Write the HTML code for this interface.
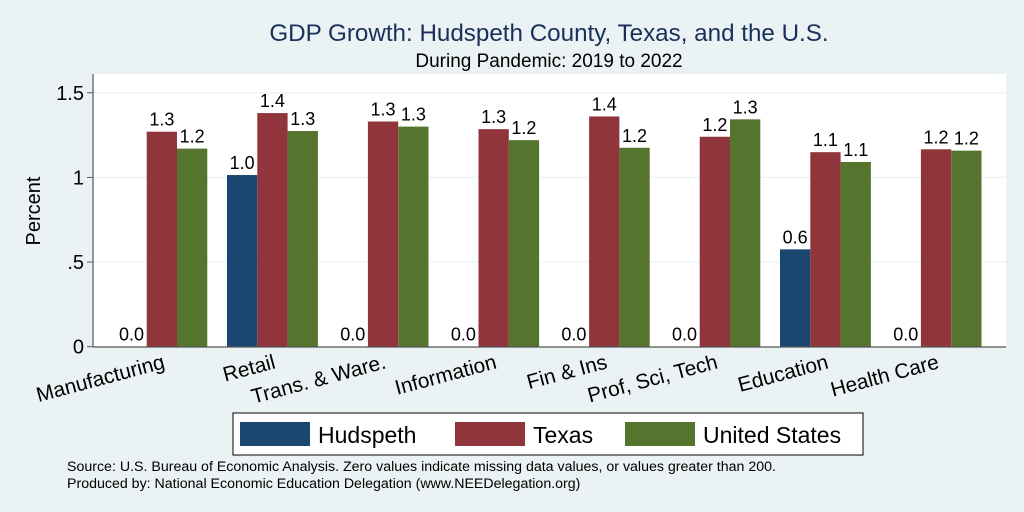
<!DOCTYPE html>
<html><head><meta charset="utf-8"><style>
body{margin:0;background:#eaf2f3;}
svg{display:block;font-family:"Liberation Sans",sans-serif;}
</style></head><body>
<svg id="c" width="1024" height="512" viewBox="0 0 1024 512">
<rect x="0" y="0" width="1024" height="512" fill="#eaf2f3"/>
<text x="549" y="41" text-anchor="middle" font-size="24.2" fill="#1a2f5a">GDP Growth: Hudspeth County, Texas, and the U.S.</text>
<text x="549" y="67" text-anchor="middle" font-size="19" fill="#000">During Pandemic: 2019 to 2022</text>
<rect x="93" y="74" width="913" height="273" fill="#fff"/>
<g id="grid"></g>
<g id="bars"></g>
<line x1="93" y1="74" x2="93" y2="347" stroke="#555" stroke-width="1.2"/>
<line x1="93" y1="347" x2="1006" y2="347" stroke="#555" stroke-width="1.2"/>
<text transform="translate(40,211) rotate(-90)" text-anchor="middle" font-size="20">Percent</text>
<g id="xl"></g>
<g>
<rect x="233" y="413" width="630" height="42" fill="#fff" stroke="#000" stroke-width="1"/>
<rect x="240" y="422" width="70" height="24" fill="#1a476f"/>
<text x="318" y="443" font-size="23">Hudspeth</text>
<rect x="455" y="422" width="70" height="24" fill="#90353b"/>
<text x="533" y="443" font-size="23">Texas</text>
<rect x="625" y="422" width="70" height="24" fill="#55752f"/>
<text x="703" y="443" font-size="23">United States</text>
</g>
<text x="67" y="471" font-size="14.2">Source: U.S. Bureau of Economic Analysis. Zero values indicate missing data values, or values greater than 200.</text>
<text x="67" y="488" font-size="14.2">Produced by: National Economic Education Delegation (www.NEEDelegation.org)</text>
</svg>
<script>
const categories=["Manufacturing","Retail","Trans. & Ware.","Information","Fin & Ins","Prof, Sci, Tech","Education","Health Care"];
const hudspeth=[0,1.014,0,0,0,0,0.575,0];
const texas=[1.27,1.38,1.33,1.285,1.36,1.24,1.149,1.166];
const us=[1.17,1.274,1.30,1.22,1.175,1.343,1.091,1.158];
const yTicks=[0,0.5,1,1.5];
const yTickLabels=["0",".5","1","1.5"];
const NS="http://www.w3.org/2000/svg";
function y(v){return 346.7-v*169.3;}
function gx(i){return 116.4+i*110.6;}
const BW=30.3;
const colors=["#1a476f","#90353b","#55752f"];
const series=[hudspeth,texas,us];
const sNames=["hudspeth","texas","us"];
function mk(t,a,p){const e=document.createElementNS(NS,t);for(const k in a)e.setAttribute(k,a[k]);p.appendChild(e);return e;}
const grid=document.getElementById('grid');
yTicks.forEach((t,i)=>{
 if(t>0){const l=mk('line',{x1:93,x2:1006,y1:y(t),y2:y(t),stroke:'#eaf2f3','stroke-width':1.2},grid);
 
 }
 const tk=mk('line',{x1:87,x2:93,y1:y(t),y2:y(t),stroke:'#555'},grid);
 
 
 const tx=mk('text',{x:84,y:y(t)+7,'text-anchor':'end','font-size':20},grid);
 tx.textContent=yTickLabels[i];
 
 
});
const bars=document.getElementById('bars');
categories.forEach((c,i)=>{
 series.forEach((s,j)=>{
  const v=s[i];const x0=gx(i)+j*BW;
  if(v>0){const r=mk('rect',{x:x0,y:y(v),width:BW,height:y(0)-y(v),fill:colors[j]},bars);
  
  }
  const t=mk('text',{x:x0+BW/2,y:y(v)-6,'text-anchor':'middle','font-size':18},bars);
  t.textContent=v.toFixed(1);
  
  
 });
 const xl=document.getElementById('xl');
 const cx=gx(i)+1.5*BW;
 const t=mk('text',{x:0,y:0,'text-anchor':'end','font-size':20.8,transform:`translate(${cx+4},${368}) rotate(-15)`},xl);
 t.textContent=c;
 
 
});
</script>
</body></html>
